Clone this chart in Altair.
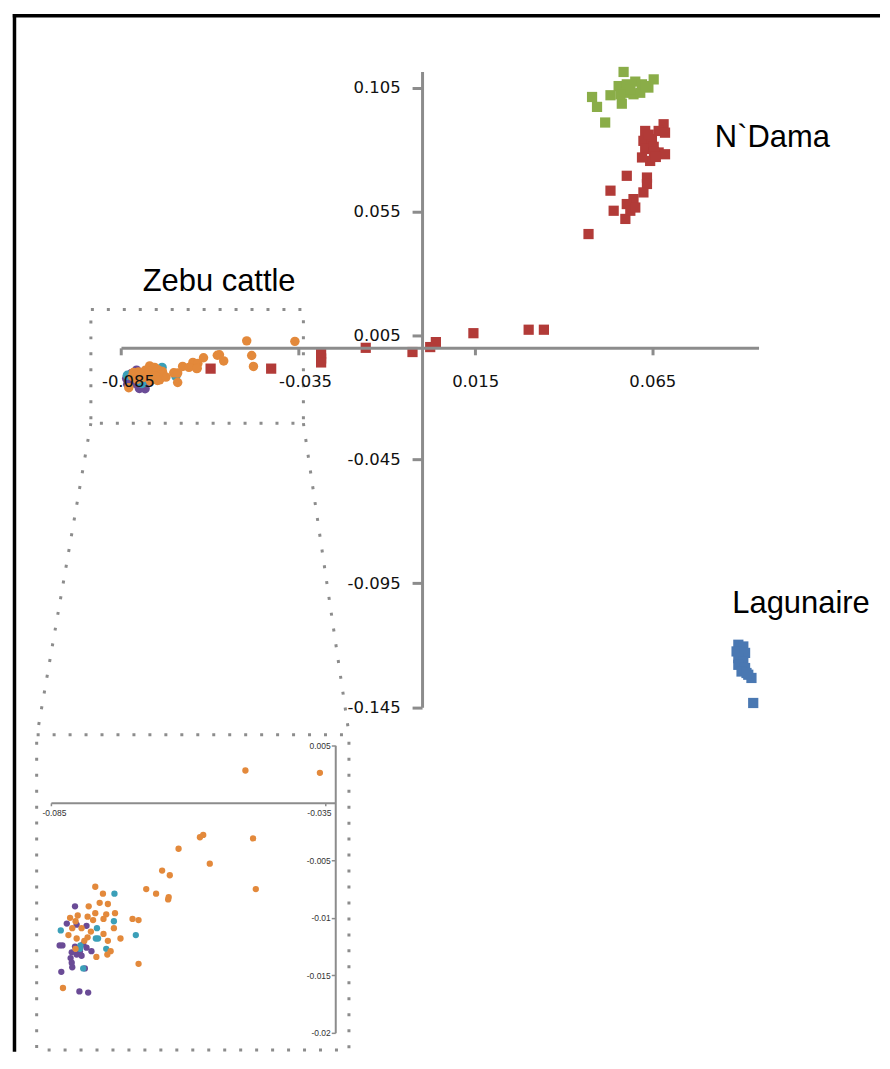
import altair as alt
import pandas as pd

# ---------------- data ----------------
green_x = [0.0569, 0.0555, 0.0578, 0.0602, 0.0621, 0.0654, 0.0639, 0.0574, 0.0597, 0.0616,
           0.0480, 0.0532, 0.0494, 0.0564, 0.0517, 0.0588, 0.0560, 0.0630]
green_y = [0.1113, 0.1056, 0.1063, 0.1074, 0.1063, 0.1083, 0.1050, 0.1029, 0.1023, 0.1029,
           0.1012, 0.1019, 0.0972, 0.0985, 0.0909, 0.1043, 0.1023, 0.1056]

red_x = [0.0682, 0.0668, 0.0630, 0.0686, 0.0625, 0.0649, 0.0630, 0.0668, 0.0686, 0.0644,
         0.0621, 0.0654, 0.0578, 0.0635, 0.0635, 0.0532, 0.0625, 0.0597, 0.0578, 0.0541,
         0.0574, 0.0470, 0.0588, 0.0602, 0.0640, 0.0655, 0.0660,
         -0.0597, -0.0426, -0.0285, -0.0285, -0.0285, -0.0159, -0.0027, 0.0023, 0.0039,
         0.0145, 0.0301, 0.0344]
red_y = [0.0902, 0.0875, 0.0875, 0.0868, 0.0835, 0.0842, 0.0802, 0.0788, 0.0781, 0.0754,
         0.0768, 0.0811, 0.0694, 0.0687, 0.0661, 0.0634, 0.0627, 0.0600, 0.0580, 0.0553,
         0.0520, 0.0459, 0.0553, 0.0566, 0.0860, 0.0790, 0.0770,
         -0.0084, -0.0084, -0.0023, -0.0043, -0.0059, 0.0000, -0.0017, 0.0003, 0.0023,
         0.0059, 0.0073, 0.0073]

blue_x = [0.0893, 0.0907, 0.0888, 0.0912, 0.0893, 0.0907, 0.0893, 0.0912, 0.0902, 0.0921,
          0.0930, 0.0916, 0.0935]
blue_y = [-0.1198, -0.1205, -0.1225, -0.1231, -0.1252, -0.1265, -0.1279, -0.1292, -0.1306,
          -0.1319, -0.1332, -0.1312, -0.1433]

orange_x = [-0.0495, -0.0359, -0.0578, -0.0572, -0.0481, -0.0617, -0.0560, -0.0647, -0.0633,
            -0.0476, -0.0676, -0.0658, -0.0635, -0.0636, -0.0769, -0.0755, -0.0761, -0.0746,
            -0.0781, -0.0733, -0.0769, -0.0749, -0.0701, -0.0690, -0.0815, -0.0801, -0.0783,
            -0.0754, -0.0805, -0.0773, -0.0811, -0.0794, -0.0735, -0.0777, -0.0818, -0.0754,
            -0.0783, -0.0803, -0.0723, -0.0746, -0.0789, -0.0805, -0.0741, -0.0767, -0.0747,
            -0.0690, -0.0828]
orange_y = [0.0028, 0.0026, -0.0030, -0.0028, -0.0031, -0.0040, -0.0053, -0.0059, -0.0063,
            -0.0075, -0.0075, -0.0079, -0.0082, -0.0084, -0.0073, -0.0079, -0.0087, -0.0088,
            -0.0090, -0.0096, -0.0096, -0.0097, -0.0101, -0.0102, -0.0100, -0.0098, -0.0099,
            -0.0101, -0.0103, -0.0102, -0.0109, -0.0109, -0.0109, -0.0112, -0.0115, -0.0114,
            -0.0117, -0.0118, -0.0118, -0.0120, -0.0120, -0.0127, -0.0129, -0.0134, -0.0132,
            -0.0140, -0.0161]

purple_x = [-0.0806, -0.0821, -0.0803, -0.0785, -0.0834, -0.0829, -0.0806, -0.0785, -0.0776,
            -0.0791, -0.0803, -0.0794, -0.0814, -0.0812, -0.0811, -0.0831, -0.0788, -0.0798,
            -0.0782, -0.0797, -0.0812]
purple_y = [-0.0090, -0.0105, -0.0106, -0.0107, -0.0124, -0.0124, -0.0125, -0.0126, -0.0129,
            -0.0123, -0.0132, -0.0133, -0.0135, -0.0139, -0.0143, -0.0147, -0.0144, -0.0164,
            -0.0165, -0.0129, -0.0130]

teal_x = [-0.0734, -0.0735, -0.0832, -0.0766, -0.0768, -0.0764, -0.0695, -0.0796, -0.0749,
          -0.0791, -0.0797]
teal_y = [-0.0079, -0.0103, -0.0111, -0.0109, -0.0118, -0.0118, -0.0115, -0.0124, -0.0127,
          -0.0144, -0.0127]

labels = ["N`Dama", "Lagunaire", "Zebu cattle"]
label_x = [0.0989, 0.1070, -0.0573]
label_y = [0.0811, -0.1069, 0.0231]

main_x_ticks = [-0.085, -0.035, 0.015, 0.065]
main_y_ticks = [0.105, 0.055, 0.005, -0.045, -0.095, -0.145]
inset_x_ticks = [-0.085, -0.035]
inset_y_ticks = [0.005, -0.005, -0.01, -0.015, -0.02]

groups = ["green", "red", "blue", "orange", "purple", "teal"]
colors = ["#8aad48", "#b23b38", "#4a78b2", "#e3893b", "#6a4b96", "#3b9fb8"]

# ---------------- tables ----------------
def frame(xs, ys, g):
    return pd.DataFrame({"x": xs, "y": ys, "grp": g})

sq_df = pd.concat([frame(green_x, green_y, "green"), frame(red_x, red_y, "red"),
                   frame(blue_x, blue_y, "blue")], ignore_index=True)
zebu_df = pd.concat([frame(purple_x, purple_y, "purple"), frame(teal_x, teal_y, "teal"),
                     frame(orange_x, orange_y, "orange")], ignore_index=True)
lab_df = pd.DataFrame({"x": label_x, "y": label_y, "label": labels})

# zoom region (main-chart data space) and its inset frame (inset data space)
zoom_df = pd.DataFrame({"x0": [-0.0935], "x1": [-0.0335], "y0": [0.0155], "y1": [-0.0304]})
inset_box_df = pd.DataFrame({"x0": [-0.0876], "x1": [-0.0306], "y0": [0.0059], "y1": [-0.0215]})
conn_df = pd.DataFrame({"x0": [-0.0935, -0.0335], "y0": [-0.0304, -0.0304],
                        "x1": [-0.1087, -0.0206], "y1": [-0.1560, -0.1560]})

W, H = 874, 1045
GRAY = "#8c8c8c"

color_scale = alt.Scale(domain=groups, range=colors)

xs_main = alt.Scale(domain=[-0.085, 0.095], range=[113.25, 752.25], nice=False, zero=False)
ys_main = alt.Scale(domain=[-0.145, 0.1115], range=[699.6, 62.4], nice=False, zero=False)
xs_in = alt.Scale(domain=[-0.085, -0.0331], range=[43, 328], nice=False, zero=False)
ys_in = alt.Scale(domain=[-0.02, 0.005], range=[1026, 737.7], nice=False, zero=False)

ax_main_x = alt.Axis(values=main_x_ticks, orient="bottom", offset=339.4 - H, title=None,
                     grid=False, domainColor=GRAY, domainWidth=3, tickColor=GRAY, tickWidth=3,
                     tickSize=7, labelFont="DejaVu Sans", labelFontSize=16.5, labelColor="#111",
                     labelPadding=19, labelFlush=False, labelExpr="toString(datum.value)",
                     labelOffset={"condition": {"test": "datum.value < 0", "value": 7}, "value": 0},
                     zindex=1)
ax_main_y = alt.Axis(values=main_y_ticks, orient="left", offset=-415, title=None, grid=False,
                     domainColor=GRAY, domainWidth=3, tickColor=GRAY, tickWidth=3, tickSize=10,
                     labelFont="DejaVu Sans", labelFontSize=16.5, labelColor="#111",
                     labelPadding=12, labelFlush=False, labelExpr="toString(datum.value)",
                     zindex=1)
ax_in_x = alt.Axis(values=inset_x_ticks, orient="bottom", offset=795.4 - H, title=None,
                   grid=False, domainColor=GRAY, domainWidth=2, tickColor=GRAY, tickWidth=1.5,
                   tickSize=3, labelFont="Liberation Sans", labelFontSize=8.5, labelColor="#333",
                   labelPadding=3, labelFlush=False, labelExpr="toString(datum.value)",
                   labelOffset={"condition": {"test": "datum.value > -0.05", "value": -6}, "value": 3})
ax_in_y = alt.Axis(values=inset_y_ticks, orient="left", offset=-328, title=None, grid=False,
                   domainColor=GRAY, domainWidth=2, tickColor=GRAY, tickWidth=1.5, tickSize=4,
                   labelFont="Liberation Sans", labelFontSize=8.5, labelColor="#333",
                   labelPadding=1, labelFlush=False, labelExpr="toString(datum.value)")

def MX(f):
    return alt.X(f, type="quantitative", scale=xs_main, axis=ax_main_x)

def MY(f):
    return alt.Y(f, type="quantitative", scale=ys_main, axis=ax_main_y)

def IX(f):
    return alt.X(f, type="quantitative", scale=xs_in, axis=ax_in_x)

def IY(f):
    return alt.Y(f, type="quantitative", scale=ys_in, axis=ax_in_y)

dotted = dict(stroke=GRAY, strokeWidth=3, strokeDash=[3, 13])

# ---------------- main chart ----------------
squares = alt.Chart(sq_df).mark_point(shape="square", filled=True, size=105, opacity=1).encode(
    x=MX("x"), y=MY("y"), color=alt.Color("grp:N", scale=color_scale, legend=None))

zebu_main = alt.Chart(zebu_df).mark_circle(size=90, opacity=1).encode(
    x=MX("x"), y=MY("y"), color=alt.Color("grp:N", scale=color_scale, legend=None))

texts = alt.Chart(lab_df).mark_text(font="Liberation Sans", fontSize=31, align="center",
                                    baseline="alphabetic", color="#000").encode(
    x=MX("x"), y=MY("y"), text="label:N")

zoom_box = alt.Chart(zoom_df).mark_rect(fillOpacity=0, **dotted).encode(
    x=MX("x0"), x2=alt.X2("x1"), y=MY("y0"), y2=alt.Y2("y1"))

connectors = alt.Chart(conn_df).mark_rule(**dotted).encode(
    x=MX("x0"), x2=alt.X2("x1"), y=MY("y0"), y2=alt.Y2("y1"))

one = pd.DataFrame({"a": [0]})
frame_left = alt.Chart(one).mark_rule(color="#000", strokeWidth=3.5).encode(
    x=alt.value(6.5), y=alt.value(4.8), y2=alt.value(H))
frame_top = alt.Chart(one).mark_rule(color="#000", strokeWidth=3.5).encode(
    x=alt.value(4.8), x2=alt.value(W), y=alt.value(6.5))

main = alt.layer(zoom_box, connectors, squares, zebu_main, texts, frame_left, frame_top)

# ---------------- inset ----------------
inset_pts = alt.Chart(zebu_df).mark_circle(size=40, opacity=1).encode(
    x=IX("x"), y=IY("y"), color=alt.Color("grp:N", scale=color_scale, legend=None))
inset_box = alt.Chart(inset_box_df).mark_rect(fillOpacity=0, **dotted).encode(
    x=IX("x0"), x2=alt.X2("x1"), y=IY("y0"), y2=alt.Y2("y1"))
inset = alt.layer(inset_box, inset_pts)

chart = alt.layer(main, inset).resolve_scale(x="independent", y="independent").properties(
    width=W, height=H, padding=0
).configure_view(stroke=None)

chart.save("out.html", embed_options={"renderer": "svg", "actions": False})
